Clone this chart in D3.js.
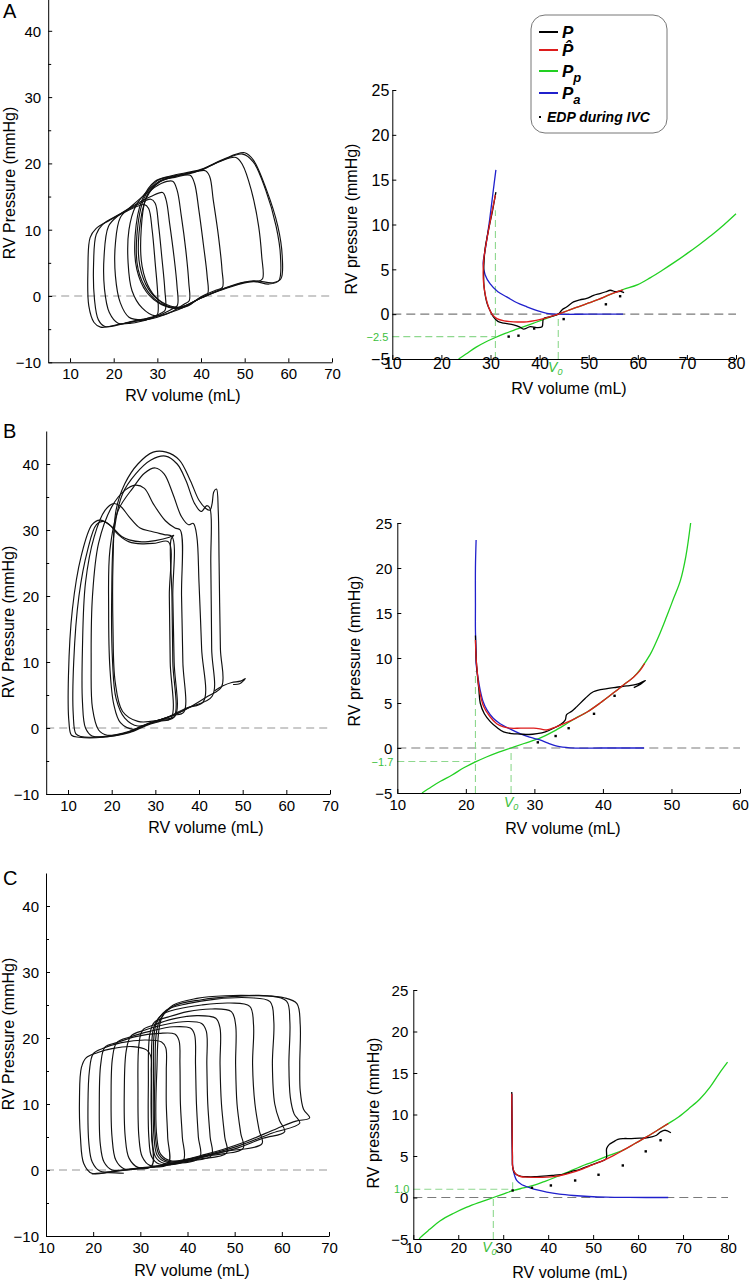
<!DOCTYPE html>
<html><head><meta charset="utf-8">
<script src="https://cdn.jsdelivr.net/npm/d3@7"></script>
<style>body{margin:0;background:#fff}svg{display:block}</style>
</head><body><svg id="c" width="750" height="1280"></svg>
<script>
// ---------------- DATA ----------------
const pvXTicks = [10,20,30,40,50,60,70];
const pvYTicks = [-10,0,10,20,30,40];
const pvYMinor = [-5,5,15,25,35];
const fitYTicks = [-5,0,5,10,15,20,25];
const fitXTicksA = [10,20,30,40,50,60,70,80];
const fitXTicksB = [10,20,30,40,50,60];
const fitXTicksC = [10,20,30,40,50,60,70,80];
const panelLetters = ['A','B','C'];
const pvXTitle = 'RV volume (mL)';
const pvYTitle = 'RV Pressure (mmHg)';
const fitYTitle = 'RV pressure (mmHg)';
const legendMain = ['P', 'P\u0302', 'P', 'P'];
const legendSubs = ['', '', 'p', 'a'];
const legendDotLabel = 'EDP during IVC';

// PV loops during IVC occlusion, panel A (volume mL, pressure mmHg)
const loopsA = [
 [[56.5,2.0],[58.3,2.6],[58.6,6],[57.6,10.5],[55,16],[52,20.5],[50,21.6],[45,20.6],[40,19.1],[33,18.1],[29.5,17.3],[26.5,14.5],[24.9,9],[25.3,4],[27.5,0.6],[31,-1.3],[35,-1.8],[40,-0.3],[46,1.3],[52,2.3]],
 [[55.5,1.8],[57.8,2.3],[58.2,6],[57.2,10.5],[54.8,16],[52,20.2],[49.5,21.4],[45,20.5],[40,19],[33,18],[30,17.4],[27,14.8],[25.3,9],[25.6,4],[27.8,0.7],[31,-1.2],[35,-1.7],[40,-0.3],[46,1.2],[52,2.2]],
 [[53,2.2],[54.1,2.6],[53.9,6],[53.2,10.5],[51.5,16],[49.5,19.8],[48,20.9],[44,20.2],[40,19],[34,18],[30.5,17.2],[27.5,14.8],[25.8,9.5],[26,4.5],[28,1],[31,-0.9],[35,-1.7],[40,-0.3],[45,1.1],[50,2.1]],
 [[43.5,0.9],[44.9,1.3],[44.8,4],[44,9],[42.8,14.5],[42,18],[41,18.9],[37,18.4],[33,17.9],[30,17],[27.5,15],[26.3,10],[26.5,4.5],[28.3,1],[31,-1],[34,-1.9],[37,-1.5],[40,-0.1]],
 [[40,-0.2],[41.5,0.3],[41.4,3],[40.5,8],[39.5,13],[38.5,17],[37.5,18.2],[34,17.9],[31,17.5],[28,16],[25,13.5],[23.5,10],[23.3,5],[24.2,0.8],[26.5,-1.8],[29.5,-3],[33,-2.5],[37,-1.4]],
 [[36.2,-1.2],[37.3,-0.7],[37.2,2],[36.5,7],[35.5,12],[34.5,16],[33.5,17.3],[31,17],[28,15.7],[24,13.5],[21.5,11.8],[20.4,8],[20.4,3],[21.5,-1],[23.5,-3.2],[26.5,-3.6],[30,-3.2],[33.5,-2.3]],
 [[33.6,-1.9],[34.6,-1.4],[34.5,1.5],[33.8,6],[32.8,11],[32,14.5],[31.2,15.6],[28.5,15],[25,13.8],[21,12.1],[18.8,10.5],[17.8,6],[17.9,1],[19,-2.5],[21,-4.1],[24,-4.1],[28,-3.5],[31.5,-2.6]],
 [[30.8,-2.6],[31.8,-2.1],[31.7,1],[31,6],[30.3,10.5],[29.5,14],[28.5,14.6],[25,13.6],[21,12.2],[17.5,10.8],[16,9.3],[15.4,5],[15.6,-0.5],[16.5,-3.6],[18,-4.6],[22,-4.2],[26,-3.6],[29,-3.2]],
 [[29,-3.2],[30,-2.8],[30.1,0],[29.5,5],[28.8,10],[28,13.2],[27,13.8],[23,12.8],[19,11.4],[16,10.2],[14.6,8.8],[14.1,4],[14.3,-1.5],[15.5,-4],[17,-4.7],[21,-4.3],[25,-3.8],[28,-3.5]]
];
const tailsA = [
 [[22.5,-4.1],[25,-3.7],[27.5,-3.6]],
 [[26,-3.8],[28.5,-3.2],[30,-3.1]]
];

// panel B loops
const loopsB = [
 [[45.2,6.3],[44.9,12],[44.6,25],[44.4,33],[44.0,36.2],[43.4,35.8],[43,34],[42.5,33],[41.5,33.3],[40,34.5],[38,37.5],[35.5,40.6],[32.5,41.8],[29.5,41.8],[26,40],[23,37],[21,33],[20.3,25],[20.3,15],[20.8,7],[22.5,2.5],[26,1.0],[30,1.1],[34,1.9],[38,3.2],[42,4.8]],
 [[43,4.8],[42.9,12],[42.7,25],[42.5,33.3],[41.8,33.7],[40.5,32.8],[39,34],[37,37.5],[35,40],[32.3,41.2],[29,40.6],[25.5,38.5],[22.5,35.5],[20.6,30],[20.0,20],[20.2,10],[21,4.5],[23,1.5],[26,0.3],[30,1.0],[34,1.9],[38,3.2]],
 [[41,4.0],[40.6,12],[40,22],[39.5,29],[38.7,31],[37.6,30.8],[36,32],[34,35.5],[32,38.5],[30,39.4],[27.5,38.6],[25,36.5],[21.5,33],[19.6,27],[19.3,18],[19.6,9],[20.5,3.5],[22,0.8],[25,-0.2],[29,0.8],[33,1.7],[37,3.0]],
 [[36.5,2.4],[36.3,10],[36,20],[35.7,30],[34.5,30.3],[32.3,31.4],[29.5,34],[27.5,36.3],[25.4,36.8],[23,36],[20,33.5],[17,28],[15.6,20],[15.3,10],[15.6,3],[17,-0.3],[19,-1.1],[23,-0.7],[27,0.3],[31,1.2],[34,1.9]],
 [[34.5,1.8],[34.3,10],[34,20],[33.8,29.0],[32,29.3],[29,29.8],[26.5,30.3],[24,32],[22,33.6],[20.4,34],[18.5,33],[16,29],[14,22],[13.3,12],[13.3,4],[14,0],[15.5,-1.2],[19,-1.3],[24,-0.6],[28,0.6],[31.5,1.3]],
 [[34.2,1.6],[34,10],[33.8,20],[33.6,28.6],[34.2,29.2],[33.2,28.9],[30,28.4],[26.9,28.2],[24,28.5],[22.3,29],[20,30.5],[18.1,31.3],[16.5,30.8],[14.5,27],[12.5,20],[11.3,10],[11.2,2],[11.8,-0.9],[13,-1.3],[18,-1.3],[24,-0.6],[28,0.5],[31,1.1]],
 [[33.6,1.5],[33.4,10],[33.2,20],[33,28.2],[30,28],[27,27.9],[24,28.2],[21.5,29.3],[19.5,30.8],[17.3,31.5],[15.5,30.8],[13,26],[11,18],[10.1,8],[10.2,1],[10.8,-1.1],[12.5,-1.4],[18,-1.4],[24,-0.7],[28,0.4],[31,1.0]]
];
const tailsB = [
 [[43.5,5.6],[45.5,6.4],[47.5,6.9],[49.5,7.1],[50.6,7.5],[49.3,6.7],[47.8,6.6]]
];

// panel C loops
const loopsC = [
 [[65.9,7.9],[64.6,9.2],[63.9,12],[63.8,16],[63.9,22],[63.2,25.2],[60.5,26.1],[55,26.4],[48,26.4],[42,26],[37,25],[34.5,23],[33.5,15],[33.5,5],[34.3,2.4],[36.5,1.4],[44,2.4],[52,4.2],[59,6.3],[63,7.4]],
 [[63.8,7.1],[62.6,8.5],[61.8,11],[61.5,16],[61.7,22.5],[61,25.6],[57,26.4],[50,26.3],[43,25.8],[37,24.8],[34,22.5],[33.1,14],[33.2,5],[34,2.3],[36,1.3],[43,2.1],[51,3.7],[58,5.6]],
 [[60.6,5.8],[59.5,7.5],[58.5,10],[58,16],[58.3,22.5],[57.5,25.5],[53,26.1],[46,25.9],[40,25.2],[35.5,24.2],[33.3,22],[32.8,14],[32.9,5],[33.6,2.2],[35.5,1.2],[42,1.9],[50,3.2],[56,4.8]],
 [[55.8,4.0],[55.2,6],[54.3,10],[53.8,16],[54,22],[53.2,24.8],[49,25.3],[43,25],[38,24.4],[34.5,23.5],[32.8,21.5],[32.4,14],[32.5,5],[33.2,2],[35,1.0],[40,1.5],[48,2.8]],
 [[51.8,3.3],[51.3,5.5],[50.5,10],[50.2,16],[50.2,22],[49.3,24],[45,24.4],[40,24],[36,23.2],[33,22.4],[32,20.5],[31.7,13],[31.8,5],[32.4,2],[34,0.9],[38,1.2],[45,2.2]],
 [[48.3,2.6],[47.9,5],[47.2,10],[46.9,16],[46.9,21.5],[46,23],[42,23.4],[37,22.9],[33,22],[30.5,21.2],[29.7,19],[29.5,12],[29.7,5],[30.4,2],[32,0.7],[36,0.9],[42,1.6]],
 [[45.1,2.2],[44.8,5],[44.3,10],[44.1,16],[44,21],[43,22.2],[40,22.5],[35,22],[31,21.2],[28,20.3],[27,18],[26.6,12],[26.8,5],[27.6,1.8],[29.5,0.4],[34,0.6],[40,1.3]],
 [[42.6,1.9],[42.3,5],[41.9,10],[41.7,16],[41.5,20.5],[40.6,21.5],[37,21.7],[32,21],[28,20.2],[25,19.3],[24.1,17],[23.8,11],[24,5],[24.8,1.5],[26.5,0.2],[30,0.3],[36,0.8]],
 [[39.1,1.4],[38.9,5],[38.5,10],[38.4,16],[38.2,19.6],[37.3,20.6],[34,20.7],[29,20.2],[25,19.3],[22.5,18.6],[21.6,16],[21.3,10],[21.5,4],[22.3,1.2],[24,0],[28,0.1],[34,0.6]],
 [[35.9,0.9],[35.8,5],[35.5,10],[35.5,15],[35.4,18.5],[34.5,19.4],[31,19.7],[26,19.3],[22,18.4],[20,17.6],[19.2,15],[18.9,10],[19.1,4],[19.8,1.2],[21.5,-0.2],[26,0],[31,0.4]],
 [[32.4,0.6],[32.4,5],[32.3,10],[32.3,15],[32.2,17.3],[31.3,18.2],[28.4,18.7],[24,18.4],[21,17.8],[18.5,17],[17.5,15.5],[17.1,11],[17.3,5],[18,1],[19.7,-0.5],[23.6,-0.3],[28,0.1]]
];
const tailsC = [
 [[19.7,-0.6],[23,-0.4],[26.5,-0.5]]
];

// Fitted EDPVR curves, panel A
const fitA_P = [[31.1,13.6],[30.4,11.5],[29.6,9.4],[28.9,7.3],[28.7,6.0],[28.6,4.5],[28.7,3.0],[29.3,1.2],[30.0,0.3],[30.6,-0.3],[31.5,-0.8],[32.7,-1.0],[34.7,-1.2],[36.0,-1.45],[36.7,-1.67],[38.1,-1.4],[39.4,-1.5],[40.5,-1.4],[40.8,-0.5],[42.0,-0.3],[43.8,0],[44.6,0.5],[45.5,0.8],[46.9,1.37],[48.2,1.6],[49.6,1.75],[51.0,2.1],[52.3,2.3],[53.5,2.5],[54.4,2.67],[55.5,2.5],[56.5,2.55],[57.2,2.4]];
const fitA_Phat = [[31.0,13.3],[30.3,11.4],[29.6,9.4],[29.0,7.5],[28.6,6.0],[28.5,4.5],[28.6,3.4],[29.0,2.0],[29.6,0.8],[30.3,0.0],[31.3,-0.5],[32.8,-0.75],[34.7,-0.85],[37.4,-0.85],[39.3,-0.7],[40.8,-0.5],[42.3,-0.25],[43.8,0],[46,0.45],[48,0.85],[50,1.25],[52,1.65],[54.4,2.2],[57,2.7]];
const fitA_Pp = [[23.5,-5],[25,-4.45],[27,-3.7],[29,-3.1],[31,-2.6],[33,-2.15],[34.7,-1.8],[36.8,-1.4],[38.8,-1.0],[41,-0.55],[43.8,0],[46,0.45],[48,0.85],[50,1.25],[52,1.65],[54.4,2.2],[57,2.75],[60,3.3],[62.5,4.05],[65,4.9],[67.5,5.8],[70,6.75],[72.5,7.75],[75,8.8],[77.5,9.95],[80,11.2]];
const fitA_Pa = [[31.1,16.1],[30.5,13.5],[29.9,10.85],[29.3,8.5],[28.9,7.1],[28.5,5.65],[28.9,4.4],[29.9,3.4],[31.5,2.5],[33.3,1.93],[35.3,1.3],[37.4,0.82],[39.5,0.4],[41.5,0.1],[43.8,0],[50,0],[57,0]];
const edpA = [[33.7,-2.5],[35.7,-2.4],[38.9,-1.6],[44.9,-0.55],[53.5,1.1],[56.4,2.0]];
const v0A = 43.8, pminVolA = 31.0, pminA = -2.5, guideTopA = 11.6, pminLabelA = '−2.5';

// panel B
const fitB_P = [[21.4,12.5],[21.5,10],[21.7,8],[21.9,6.5],[22.1,5.0],[22.7,3.8],[23.6,2.9],[24.5,2.3],[25.5,1.8],[26.7,1.6],[27.9,1.55],[29.2,1.5],[30.4,1.6],[31.6,1.8],[32.8,2.2],[33.8,2.6],[34.5,3.1],[34.7,3.7],[35.5,4.1],[36.2,4.6],[37.4,5.5],[38.6,6.25],[40.6,6.6],[42,6.75],[43.5,6.9],[45,7.1],[46.2,7.5],[45.5,7.1],[44.5,6.7]];
const fitB_Phat = [[21.4,12.0],[21.5,10],[21.7,8.2],[21.9,6.8],[22.6,4.6],[23.5,3.5],[24.5,2.7],[25.5,2.35],[26.5,2.2],[28,2.2],[29.9,2.2],[31,2.1],[31.8,2.0],[33,2.3],[34.3,2.7],[36,3.3],[37.7,4.0],[39.6,5.0],[41.5,6.1],[43,7.0],[44.5,7.9],[45.4,8.6],[46.1,9.4]];
const fitB_Pp = [[13.6,-5],[15,-4.3],[16.3,-3.7],[18,-3.0],[19.7,-2.2],[21.4,-1.55],[23,-1.0],[24.8,-0.45],[26.6,0],[28.5,0.5],[30.8,1.1],[32.8,1.85],[34.7,2.7],[36.2,3.4],[37.7,4.0],[39.6,5.0],[41.5,6.1],[43,7.0],[44.5,7.9],[45.5,8.8],[46.9,10.4],[48.3,12.7],[49.3,14.6],[50.3,16.6],[51.3,18.6],[52.1,21.3],[52.8,25]];
const fitB_Pa = [[21.5,23.1],[21.4,20],[21.4,16],[21.4,13.1],[21.5,10.5],[21.5,9.4],[21.8,7.7],[22.1,6.4],[22.5,5.2],[23.1,4.2],[24,3.3],[25,2.7],[26.5,2.1],[27.9,1.6],[29.3,1.2],[30.8,0.9],[32,0.55],[33.3,0.2],[35.2,0.02],[40,0],[46,0]];
const edpB = [[30.5,0.63],[33.1,1.33],[35.0,2.2],[38.7,3.8],[41.7,5.8]];
const v0B = 26.6, pminVolB = 21.4, pminB = -1.5, guideTopB = 8.5, pminLabelB = '−1.7';

// panel C
const fitC_P = [[31.9,12.7],[31.95,10],[32.0,7],[32.05,5],[32.1,3.7],[32.5,3.0],[33.0,2.74],[34,2.55],[35.3,2.5],[37,2.5],[39.7,2.6],[41.5,2.7],[43.4,2.8],[45,3.1],[47.1,3.4],[49.5,3.9],[51.5,4.3],[52.9,4.67],[53.0,5.9],[53.6,6.4],[54.5,6.7],[55.5,7.0],[56.7,7.1],[58.5,7.1],[60.5,7.15],[61.9,7.2],[63,7.3],[64.1,7.5],[65.0,7.9],[66.0,8.1],[67.3,7.8]];
const fitC_Phat = [[31.9,12.5],[31.95,10],[32.0,7],[32.05,5],[32.1,3.7],[32.5,3.05],[33.0,2.74],[34,2.5],[35.3,2.45],[37.5,2.42],[39.7,2.45],[41.5,2.55],[43.4,2.74],[45.2,3.0],[47.1,3.34],[49.7,3.9],[52.3,4.47],[54.5,5.05],[56.7,5.7],[59.3,6.5],[61.9,7.3],[64.3,8.1],[66.7,8.9]];
const fitC_Pp = [[11.3,-5],[11.6,-4.8],[13.5,-3.9],[16,-2.8],[19,-1.9],[21.9,-1.17],[24.9,-0.55],[27.8,0],[30,0.42],[32.3,0.85],[34.5,1.15],[36.7,1.45],[39.3,1.95],[41.9,2.5],[44.5,3.1],[47.1,3.7],[50,4.3],[53,4.95],[56.7,5.7],[59.3,6.5],[61.9,7.3],[64.3,8.1],[66.7,8.9],[69,9.7],[71.5,10.8],[73.8,11.9],[76,13.3],[78,14.9],[79.9,16.3]];
const fitC_Pa = [[31.9,12.5],[31.9,10],[31.95,8],[32.0,6.1],[32.05,4.5],[32.1,3.7],[32.5,2.7],[33.0,2.05],[34,1.6],[36,1.17],[37.8,0.88],[39.7,0.64],[42.5,0.4],[45.6,0.24],[49,0.12],[53,0.04],[58,0.01],[66.7,0]];
const edpC = [[32.1,0.85],[36.4,1.17],[40.6,1.45],[46.0,2.05],[51.2,2.74],[56.6,3.86],[61.7,5.56],[65.0,6.9]];
const v0C = 27.8, pminVolC = 32.1, pminC = 1.0, guideTopC = 2.2, pminLabelC = '1.0';

// ---------------- DRAWING ----------------
const FONT = '"Liberation Sans", Arial, Helvetica, sans-serif';
const svg = d3.select('#c');
const COL = {P:'#000000', Phat:'#dd1c1c', Pp:'#22d022', Pa:'#2020cc', guide:'#8ed88e', glabel:'#3cc03c'};

function styleAxis(g, fs) {
  g.attr('font-family', FONT).attr('font-size', fs);
  g.selectAll('.domain').attr('stroke', '#000').attr('stroke-width', 1);
  g.selectAll('.tick line').attr('stroke', '#000');
  g.selectAll('text').attr('fill', '#000');
}

function pvPanel(p, loops, tails, letter) {
  const x = d3.scaleLinear().domain(p.xd).range(p.xr);
  const y = d3.scaleLinear().domain(p.yd).range(p.yr);
  const g = svg.append('g');
  g.append('line').attr('x1', x(p.xd[0])).attr('x2', x(70)).attr('y1', y(0)).attr('y2', y(0))
    .attr('stroke', '#b9b9b9').attr('stroke-width', 1.6).attr('stroke-dasharray', '8,5');
  const closed = d3.line().x(d => x(d[0])).y(d => y(d[1])).curve(d3.curveCatmullRomClosed.alpha(0.5));
  const open = d3.line().x(d => x(d[0])).y(d => y(d[1])).curve(d3.curveCatmullRom.alpha(0.5));
  g.selectAll('path.loop').data(loops).join('path').attr('class', 'loop')
    .attr('d', closed).attr('fill', 'none').attr('stroke', '#111').attr('stroke-width', 1.15);
  g.selectAll('path.tail').data(tails).join('path').attr('class', 'tail')
    .attr('d', open).attr('fill', 'none').attr('stroke', '#111').attr('stroke-width', 1.1);
  const x0 = x(p.xd[0]);
  const ya = g.append('g').attr('transform', `translate(${x0},0)`)
    .call(d3.axisLeft(y).tickValues(pvYTicks).tickSize(-4).tickSizeOuter(0).tickPadding(7));
  styleAxis(ya, 15);
  ya.selectAll('text').attr('dy', '0.36em');
  const ym = g.append('g').attr('transform', `translate(${x0},0)`)
    .call(d3.axisLeft(y).tickValues(pvYMinor).tickSize(-3).tickFormat(''));
  ym.select('.domain').remove();
  styleAxis(ym, 15);
  const xa = g.append('g').attr('transform', `translate(0,${y(p.yd[0])})`)
    .call(d3.axisBottom(x).tickValues(pvXTicks).tickSize(-4).tickSizeOuter(0));
  styleAxis(xa, 15);
  xa.selectAll('text').attr('y', 17).attr('dy', null);
  g.append('text').attr('x', p.xt[0]).attr('y', p.xt[1]).attr('text-anchor', 'middle')
    .attr('font-family', FONT).attr('font-size', 16).text(pvXTitle);
  g.append('text').attr('transform', `translate(${p.yt[0]},${p.yt[1]}) rotate(-90)`).attr('text-anchor', 'middle')
    .attr('font-family', FONT).attr('font-size', 16).text(pvYTitle);
  g.append('text').attr('x', p.lt[0]).attr('y', p.lt[1]).attr('font-family', FONT).attr('font-size', 20).text(letter);
}

function fitPanel(p, d) {
  const x = d3.scaleLinear().domain(p.xd).range(p.xr);
  const y = d3.scaleLinear().domain(p.yd).range(p.yr);
  const g = svg.append('g');
  const line = d3.line().x(v => x(v[0])).y(v => y(v[1])).curve(d3.curveCatmullRom.alpha(0.5));
  g.append('line').attr('x1', x(p.xd[0])).attr('x2', x(p.xd[1])).attr('y1', y(0)).attr('y2', y(0))
    .attr('stroke', '#7a7a7a').attr('stroke-width', 1.1).attr('stroke-dasharray', '9,5');
  const gd = [
    [d.pminVol, d.guideBot, d.pminVol, d.guideTop],
    [p.xd[0], d.pmin, d.pminVol, d.pmin],
    [d.v0, p.yd[0], d.v0, 0]
  ];
  g.selectAll('line.guide').data(gd).join('line').attr('class', 'guide')
    .attr('x1', v => x(v[0])).attr('y1', v => y(v[1])).attr('x2', v => x(v[2])).attr('y2', v => y(v[3]))
    .attr('stroke', COL.guide).attr('stroke-width', 1.1).attr('stroke-dasharray', '7,4');
  const curves = [[d.Pp, COL.Pp], [d.Pa, COL.Pa], [d.P, COL.P], [d.Phat, COL.Phat]];
  g.selectAll('path.curve').data(curves).join('path').attr('class', 'curve')
    .attr('d', c => line(c[0])).attr('stroke', c => c[1]).attr('fill', 'none').attr('stroke-width', 1.3);
  g.selectAll('rect.edp').data(d.edp).join('rect').attr('class', 'edp')
    .attr('x', v => x(v[0]) - 1.2).attr('y', v => y(v[1]) - 1.2).attr('width', 2.4).attr('height', 2.4).attr('fill', '#000');
  const x0 = x(p.xd[0]);
  const ya = g.append('g').attr('transform', `translate(${x0},0)`)
    .call(d3.axisLeft(y).tickValues(fitYTicks).tickSize(-4).tickSizeOuter(0).tickPadding(p.ypad));
  styleAxis(ya, p.fs);
  ya.selectAll('text').attr('dy', '0.36em');
  const xa = g.append('g').attr('transform', `translate(0,${y(p.yd[0])})`)
    .call(d3.axisBottom(x).tickValues(p.xticks).tickSize(-4).tickSizeOuter(0));
  styleAxis(xa, p.fs);
  xa.selectAll('text').attr('y', p.xlab).attr('dy', null);
  g.append('text').attr('x', x0 - 4).attr('y', y(d.pmin) + 4).attr('text-anchor', 'end')
    .attr('font-family', FONT).attr('font-size', 11).attr('fill', COL.glabel).text(d.pminLabel);
  const vt = g.append('text').attr('x', x(d.v0) - p.v0shift).attr('y', y(p.yd[0]) + p.v0off).attr('text-anchor', 'middle')
    .attr('font-family', FONT).attr('font-size', 14).attr('font-style', 'italic').attr('fill', COL.glabel);
  vt.append('tspan').text('V');
  vt.append('tspan').attr('font-size', 9).attr('dy', 3).text('0');
  g.append('text').attr('x', p.xt[0]).attr('y', p.xt[1]).attr('text-anchor', 'middle')
    .attr('font-family', FONT).attr('font-size', 16).text(pvXTitle);
  g.append('text').attr('transform', `translate(${p.yt[0]},${p.yt[1]}) rotate(-90)`).attr('text-anchor', 'middle')
    .attr('font-family', FONT).attr('font-size', 16).text(fitYTitle);
}

pvPanel({xd:[5,70], xr:[48.2,332], yd:[-10,45], yr:[362.3,-2.35], xt:[183,401], yt:[15,183], lt:[3,18]}, loopsA, tailsA, panelLetters[0]);
pvPanel({xd:[5,70], xr:[46.2,330], yd:[-10,45], yr:[794,431], xt:[206,833], yt:[14,622], lt:[3,438]}, loopsB, tailsB, panelLetters[1]);
pvPanel({xd:[10,70], xr:[46,329], yd:[-10,45], yr:[1236,873], xt:[192,1276], yt:[14,1034], lt:[3,885]}, loopsC, tailsC, panelLetters[2]);

fitPanel({xd:[10,80], xr:[392.3,736], yd:[-5,25], yr:[359,90], xticks:fitXTicksA, fs:16, ypad:3, xlab:10, v0off:13, v0shift:3, xt:[569,394], yt:[357,219]},
  {P:fitA_P, Phat:fitA_Phat, Pp:fitA_Pp, Pa:fitA_Pa, edp:edpA, v0:v0A, pminVol:pminVolA, pmin:pminA, guideBot:-5, guideTop:guideTopA, pminLabel:pminLabelA});
fitPanel({xd:[10,60], xr:[397.3,740], yd:[-5,25], yr:[793,523], xticks:fitXTicksB, fs:15, ypad:5, xlab:17, v0off:14, v0shift:0, xt:[563,834], yt:[360,651]},
  {P:fitB_P, Phat:fitB_Phat, Pp:fitB_Pp, Pa:fitB_Pa, edp:edpB, v0:v0B, pminVol:pminVolB, pmin:pminB, guideBot:-5, guideTop:guideTopB, pminLabel:pminLabelB});
fitPanel({xd:[10,80], xr:[413.3,728], yd:[-5,25], yr:[1239,990], xticks:fitXTicksC, fs:15, ypad:5, xlab:14, v0off:13, v0shift:4, xt:[570,1278], yt:[379,1113]},
  {P:fitC_P, Phat:fitC_Phat, Pp:fitC_Pp, Pa:fitC_Pa, edp:edpC, v0:v0C, pminVol:pminVolC, pmin:pminC, guideBot:pminC, guideTop:guideTopC, pminLabel:pminLabelC});

// legend (panel A right)
(function legend() {
  const g = svg.append('g').attr('font-family', FONT).attr('font-weight', 'bold').attr('font-style', 'italic');
  g.append('rect').attr('x', 531).attr('y', 15).attr('width', 136).attr('height', 118).attr('rx', 14)
    .attr('fill', '#fff').attr('stroke', '#777').attr('stroke-width', 1);
  const cols = [COL.P, COL.Phat, COL.Pp, COL.Pa];
  const ys = [32, 50, 71, 93];
  cols.forEach((c, i) => {
    g.append('line').attr('x1', 539).attr('x2', 558).attr('y1', ys[i]).attr('y2', ys[i]).attr('stroke', c).attr('stroke-width', 2);
    const t = g.append('text').attr('x', 562).attr('y', ys[i] + 6).attr('font-size', 17);
    t.append('tspan').text(legendMain[i]);
    if (legendSubs[i]) t.append('tspan').attr('font-size', 13).attr('dy', 5).text(legendSubs[i]);
  });
  g.append('rect').attr('x', 539).attr('y', 116).attr('width', 2).attr('height', 2).attr('fill', '#000');
  g.append('text').attr('x', 547).attr('y', 122).attr('font-size', 14).text(legendDotLabel);
})();
</script></body></html>
